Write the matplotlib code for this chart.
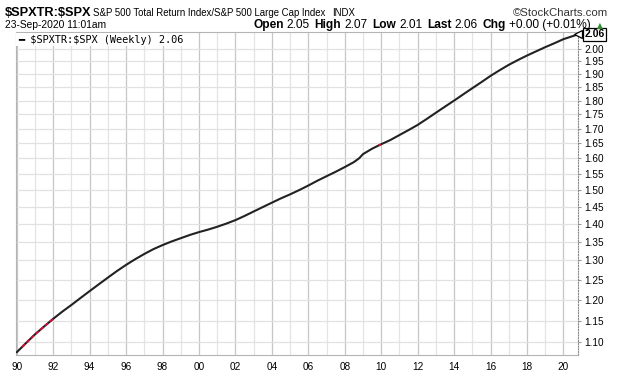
import matplotlib

matplotlib.use("Agg")
import matplotlib.pyplot as plt
import numpy as np
from matplotlib.ticker import FixedLocator, FuncFormatter, NullLocator

# weekly ratio $SPXTR:$SPX at half-year steps (log scale)
years = [
    1990, 1990.5, 1991, 1991.5, 1992, 1992.5, 1993, 1993.5, 1994, 1994.5,
    1995, 1995.5, 1996, 1996.5, 1997, 1997.5, 1998, 1998.5, 1999, 1999.5,
    2000, 2000.5, 2001, 2001.5, 2002, 2002.5, 2003, 2003.5, 2004, 2004.5,
    2005, 2005.5, 2006, 2006.5, 2007, 2007.5, 2008, 2008.5, 2008.8, 2009,
    2009.5, 2010, 2010.5, 2011, 2011.5, 2012, 2012.5, 2013, 2013.5, 2014,
    2014.5, 2015, 2015.5, 2016, 2016.5, 2017, 2017.5, 2018, 2018.5, 2019,
    2019.5, 2020, 2020.72,
]
ratio = [
    1.078, 1.098, 1.118, 1.136, 1.154, 1.171, 1.187, 1.204, 1.221, 1.238,
    1.255, 1.272, 1.288, 1.303, 1.317, 1.330, 1.341, 1.351, 1.360, 1.369,
    1.377, 1.384, 1.392, 1.401, 1.411, 1.423, 1.436, 1.449, 1.462, 1.475,
    1.487, 1.500, 1.514, 1.529, 1.543, 1.557, 1.572, 1.588, 1.601, 1.614,
    1.632, 1.647, 1.661, 1.678, 1.695, 1.713, 1.734, 1.756, 1.778, 1.800,
    1.823, 1.846, 1.869, 1.893, 1.915, 1.936, 1.955, 1.973, 1.990, 2.007,
    2.023, 2.040, 2.058,
]
# short stretches drawn red (down weeks)
down_spans = [(1990.3, 1992.0), (2009.85, 2009.98)]

x_label_years = list(range(1990, 2021, 2))
x_labels = ["90", "92", "94", "96", "98", "00", "02", "04", "06", "08",
            "10", "12", "14", "16", "18", "20"]
y_ticks = [1.10, 1.15, 1.20, 1.25, 1.30, 1.35, 1.40, 1.45, 1.50, 1.55,
           1.60, 1.65, 1.70, 1.75, 1.80, 1.85, 1.90, 1.95, 2.00]
last_value = 2.06

W, H = 620, 376
plt.rcParams["font.family"] = ["Liberation Sans", "DejaVu Sans"]

fig = plt.figure(figsize=(W / 100, H / 100), dpi=100)
ax = fig.add_axes([16 / W, 1 - 355 / H, (578 - 16) / W, (355 - 32) / H])

ax.set_yscale("log")
ax.set_xlim(1989.96, 2020.8)
ax.set_ylim(1.072, 2.07)

ax.plot(years, ratio, color="#222222", lw=1.5, solid_capstyle="round",
        solid_joinstyle="round", zorder=3)
for s, e in down_spans:
    xs = np.linspace(s, e, 20)
    ax.plot(xs, np.interp(xs, years, ratio), color="#d0103a", lw=1.4,
            dashes=(2, 1.2), zorder=4)

# axes / grid
ax.yaxis.tick_right()
ax.yaxis.set_major_locator(FixedLocator(y_ticks))
ax.yaxis.set_major_formatter(FuncFormatter(lambda v, p: f"{v:.2f}"))
ax.yaxis.set_minor_locator(NullLocator())
ax.set_xticks(x_label_years, labels=x_labels)
ax.set_xticks(range(1991, 2021, 2), minor=True)
ax.tick_params(axis="y", which="major", length=2, color="#999999",
               labelsize=7.2, pad=2.5)
ax.tick_params(axis="x", which="both", length=0, labelsize=7.2, pad=5)
ax.grid(axis="x", which="major", color="#c6c6c6", lw=0.9)
ax.grid(axis="x", which="minor", color="#e4e4e4", lw=0.9)
ax.grid(axis="y", which="major", color="#e2e2e2", lw=0.9)
ax.set_axisbelow(True)
for side in ("left", "bottom", "top"):
    ax.spines[side].set_color("#b4b4b4")
ax.spines["right"].set_color("#888888")
ax.spines["right"].set_linestyle((0, (1, 1.5)))

# legend line inside the plot
ax.text(0.003, 0.992, "\u2501 \\$SPXTR:\\$SPX (Weekly) 2.06", transform=ax.transAxes,
        family="DejaVu Sans Mono", size=7.4, va="top", ha="left", zorder=5,
        bbox=dict(fc="white", ec="none", pad=1.2))

# last value tag
ax.plot([1.0], [last_value], marker="<", ms=6, mfc="white", mec="black", mew=0.9,
        transform=ax.get_yaxis_transform(), clip_on=False, zorder=6)
ax.annotate(f"{last_value:.2f}", xy=(1.0, last_value),
            xycoords=("axes fraction", "data"), xytext=(4.5, 0),
            textcoords="offset points", ha="left", va="center",
            fontsize=7.5, fontweight="bold", annotation_clip=False, zorder=7,
            bbox=dict(boxstyle="square,pad=0.12", fc="white", ec="black", lw=0.9))

# header
renderer = fig.canvas.get_renderer()


def put(x, y, s, **kw):
    return fig.text(x / W, 1 - y / H, s, va="baseline", ha="left", **kw)


put(5, 16, "\\$SPXTR:\\$SPX", fontsize=9.2, fontweight="bold")
put(93, 16, "S&P 500 Total Return Index/S&P 500 Large Cap Index", fontsize=6.9)
put(332, 16, "INDX", fontsize=6.9)
fig.text(608 / W, 1 - 16 / H, "\u00a9StockCharts.com", ha="right",
         va="baseline", fontsize=8.2, color="#333333")
put(5, 28, "23-Sep-2020 11:01am", fontsize=7.4)

hdr = [("Open", True), ("2.05", False), ("High", True), ("2.07", False),
       ("Low", True), ("2.01", False), ("Last", True), ("2.06", False),
       ("Chg", True), ("+0.00 (+0.01%)", False)]
x = 253
for s, bold in hdr:
    t = put(x, 28, s, fontsize=8.6, fontweight="bold" if bold else "normal")
    x += t.get_window_extent(renderer).width + (3 if bold else 5)
put(x + 1, 28, "\u25b2", fontsize=5.5, color="#2e8b2e", family="DejaVu Sans")

fig.savefig("out.png", dpi=100)
